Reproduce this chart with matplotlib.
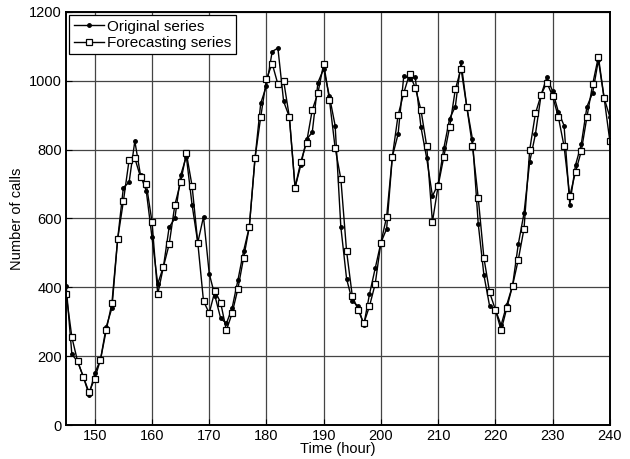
import matplotlib
matplotlib.use('Agg')
import matplotlib.pyplot as plt

plt.rcParams['font.family'] = ['Liberation Sans', 'DejaVu Sans']

hours = list(range(145, 241))

original = [405, 205, 185, 140, 88, 150, 190, 285, 340, 540,
            690, 705, 825, 725, 680, 545, 410, 460, 575, 600,
            725, 780, 640, 530, 605, 440, 375, 310, 295, 340,
            420, 505, 575, 775, 935, 985, 1085, 1095, 940, 895,
            690, 755, 830, 850, 995, 1035, 955, 870, 575, 425,
            360, 345, 290, 380, 455, 530, 570, 780, 845, 1015,
            1005, 1010, 865, 775, 665, 700, 805, 890, 925, 1055,
            925, 830, 585, 435, 345, 335, 290, 350, 405, 525,
            615, 765, 845, 960, 1010, 970, 910, 870, 640, 755,
            815, 925, 965, 1060, 950, 895]

forecast = [380, 255, 185, 140, 95, 135, 190, 275, 355, 540,
            650, 770, 775, 720, 700, 590, 380, 460, 525, 640,
            705, 790, 695, 530, 360, 325, 390, 355, 275, 325,
            395, 485, 575, 775, 895, 1005, 1050, 990, 1000, 895,
            690, 765, 820, 915, 965, 1050, 945, 805, 715, 505,
            375, 335, 295, 345, 410, 530, 605, 780, 900, 965,
            1020, 980, 915, 810, 590, 695, 780, 865, 975, 1035,
            925, 810, 660, 485, 385, 335, 275, 340, 405, 480,
            570, 800, 905, 960, 995, 955, 895, 810, 665, 735,
            795, 895, 990, 1070, 950, 825]

fig, ax = plt.subplots(figsize=(6.3, 4.59), dpi=100)
fig.subplots_adjust(left=0.105, right=0.968, top=0.974, bottom=0.074)

ax.plot(hours, original, '-', color='black', lw=1.0, marker='o', ms=2.5,
        mfc='black', mec='black', label='Original series')
ax.plot(hours, forecast, '-', color='black', lw=1.0, marker='s', ms=3.8,
        mfc='white', mec='black', mew=0.9, label='Forecasting series')

ax.set_xlim(145, 240)
ax.set_ylim(0, 1200)
ax.set_xticks(range(150, 241, 10))
ax.set_yticks(range(0, 1201, 200))
ax.grid(True, color='#444444', lw=0.9)
ax.tick_params(direction='in', length=4, labelsize=10.5, pad=3)
for s in ax.spines.values():
    s.set_linewidth(1.4)

ax.set_xlabel('Time (hour)', fontsize=10.5, labelpad=-1)
ax.set_ylabel('Number of calls', fontsize=10.5, labelpad=4)

leg = ax.legend(loc='upper left', fontsize=11, fancybox=False, framealpha=1,
                edgecolor='black', borderpad=0.3, labelspacing=0.15,
                handlelength=2.0, handletextpad=0.2, borderaxespad=0.2)
leg.get_frame().set_linewidth(0.9)

fig.savefig('out.png', dpi=100)
